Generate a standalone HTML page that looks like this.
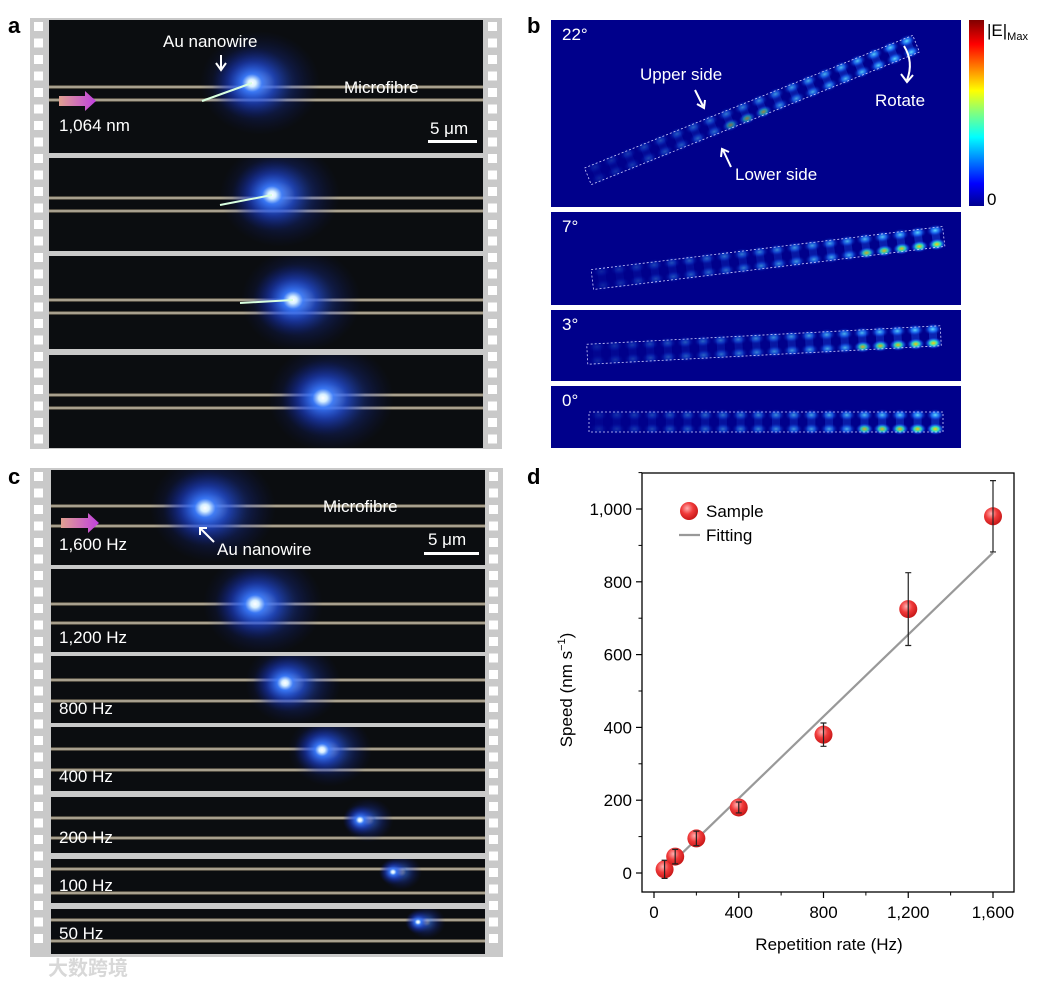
<!DOCTYPE html>
<html><head><meta charset="utf-8"><style>
body{margin:0;background:#fff;}
svg text{font-family:"Liberation Sans","Noto Sans CJK SC",sans-serif;}
</style></head><body>
<svg id="fig" width="1039" height="983" viewBox="0 0 1039 983" xmlns="http://www.w3.org/2000/svg">
<defs>
<radialGradient id="glow"><stop offset="0" stop-color="#ffffff"/><stop offset="0.1" stop-color="#d8f0ff"/><stop offset="0.25" stop-color="#3a7bff" stop-opacity="0.9"/><stop offset="0.6" stop-color="#1a3cd0" stop-opacity="0.45"/><stop offset="1" stop-color="#0a1a80" stop-opacity="0"/></radialGradient>
<radialGradient id="ball" cx="0.4" cy="0.35" r="0.65"><stop offset="0" stop-color="#ffb0b0"/><stop offset="0.5" stop-color="#f03a3a"/><stop offset="1" stop-color="#c81818"/></radialGradient>
<radialGradient id="spot"><stop offset="0" stop-color="#60e0ff"/><stop offset="0.5" stop-color="#1a70ff" stop-opacity="0.7"/><stop offset="1" stop-color="#0010a0" stop-opacity="0"/></radialGradient>
<radialGradient id="spotHot"><stop offset="0" stop-color="#ffd000"/><stop offset="0.4" stop-color="#30e0c0"/><stop offset="0.7" stop-color="#1a70ff" stop-opacity="0.6"/><stop offset="1" stop-color="#0010a0" stop-opacity="0"/></radialGradient>
<linearGradient id="arrowG" x1="0" x2="1"><stop offset="0" stop-color="#e0a090"/><stop offset="1" stop-color="#c040e0"/></linearGradient>
<linearGradient id="jet" x1="0" y1="1" x2="0" y2="0"><stop offset="0" stop-color="#00008f"/><stop offset="0.12" stop-color="#0000ff"/><stop offset="0.37" stop-color="#00ffff"/><stop offset="0.5" stop-color="#80ff80"/><stop offset="0.62" stop-color="#ffff00"/><stop offset="0.87" stop-color="#ff0000"/><stop offset="1" stop-color="#800000"/></linearGradient>
</defs>
<g id="panelA"></g>
<g id="panelC"></g>
<g id="panelB"></g>
<g id="panelD"></g>
<text x="8" y="33" font-size="22" font-weight="bold">a</text>
<text x="527" y="33" font-size="22" font-weight="bold">b</text>
<text x="8" y="484" font-size="22" font-weight="bold">c</text>
<text x="527" y="484" font-size="22" font-weight="bold">d</text>
<text x="48" y="975" font-size="20" fill="#d8d8d8" font-weight="bold">大数跨境</text>
</svg>
<script>
const NS="http://www.w3.org/2000/svg";
function mk(parent,tag,attrs,txt){const e=document.createElementNS(NS,tag);for(const k in attrs)e.setAttribute(k,attrs[k]);if(txt!==undefined)e.textContent=txt;parent.appendChild(e);return e;}

function film(g,x0,x1,y0,y1,fx0,fx1,frames){
  mk(g,'rect',{x:x0,y:y0,width:x1-x0,height:y1-y0,fill:'#c9c9c9'});
  for(let y=y0+4;y<y1-8;y+=16.5){
    mk(g,'rect',{x:x0+4,y:y,width:9,height:9,fill:'#fff'});
    mk(g,'rect',{x:x1-14,y:y,width:9,height:9,fill:'#fff'});
  }
  frames.forEach(f=>{
    const cp='cp'+f.y0;
    const c=mk(g,'clipPath',{id:cp});mk(c,'rect',{x:fx0,y:f.y0,width:fx1-fx0,height:f.y1-f.y0});
    mk(g,'rect',{x:fx0,y:f.y0,width:fx1-fx0,height:f.y1-f.y0,fill:'#0b0d10'});
    const gg=mk(g,'g',{'clip-path':`url(#${cp})`});
    f.lines.forEach(ly=>{mk(gg,'rect',{x:fx0,y:ly-2,width:fx1-fx0,height:4,fill:'#a89c80',opacity:0.45});mk(gg,'rect',{x:fx0,y:ly-0.8,width:fx1-fx0,height:1.6,fill:'#d8d0b8',opacity:0.8});});
    const r=f.r||38;
    mk(gg,'ellipse',{cx:f.gx+8,cy:f.gy,rx:r*1.5,ry:r*1.3,fill:'url(#glow)',opacity:0.55});
    mk(gg,'ellipse',{cx:f.gx,cy:f.gy,rx:r,ry:r*0.9,fill:'url(#glow)'});
    if(f.wire)mk(gg,'line',{x1:f.wire[0],y1:f.wire[1],x2:f.gx,y2:f.gy,stroke:'#d8ffe0','stroke-width':2});
  });
}
const gA=document.getElementById('panelA');
film(gA,30,502,18,449,49,483,[
 {y0:20,y1:153,lines:[87,100],gx:252,gy:83,wire:[202,101],r:40},
 {y0:158,y1:251,lines:[198,211],gx:272,gy:195,wire:[220,205],r:40},
 {y0:256,y1:349,lines:[300,313],gx:293,gy:300,wire:[240,303],r:40},
 {y0:355,y1:448,lines:[395,408],gx:323,gy:398,r:42}]);
mk(gA,'text',{x:163,y:47,'font-size':17,fill:'#fff'},'Au nanowire');
mk(gA,'path',{d:'M221 55 V68 M216 63 L221 70 L226 63',stroke:'#fff','stroke-width':2,fill:'none'});
mk(gA,'text',{x:344,y:93,'font-size':17,fill:'#fff'},'Microfibre');
mk(gA,'path',{d:'M59 96 H85 V91 L96 101 L85 111 V106 H59 Z',fill:'url(#arrowG)'});
mk(gA,'text',{x:59,y:131,'font-size':17,fill:'#fff'},'1,064 nm');
mk(gA,'text',{x:430,y:134,'font-size':17,fill:'#fff'},'5 μm');
mk(gA,'rect',{x:428,y:140,width:49,height:3,fill:'#fff'});

const gC=document.getElementById('panelC');
film(gC,30,503,468,957,51,485,[
 {y0:470,y1:565,lines:[506,526],gx:205,gy:508,r:42},
 {y0:569,y1:652,lines:[604,623],gx:255,gy:604,r:40},
 {y0:656,y1:723,lines:[680,701],gx:285,gy:683,r:32},
 {y0:727,y1:791,lines:[749,770],gx:322,gy:750,r:28},
 {y0:797,y1:853,lines:[818,838],gx:360,gy:820,r:17},
 {y0:859,y1:903,lines:[869,893],gx:393,gy:872,r:14},
 {y0:909,y1:954,lines:[920,941],gx:418,gy:922,r:13}]);
const cl=[['1,600 Hz',550],['1,200 Hz',643],['800 Hz',714],['400 Hz',782],['200 Hz',843],['100 Hz',891],['50 Hz',939]];
cl.forEach(([t,y])=>{const e=mk(gC,'text',{x:59,y:y,'font-size':17,fill:'#fff'},t);

});
mk(gC,'text',{x:323,y:512,'font-size':17,fill:'#fff'},'Microfibre');
mk(gC,'path',{d:'M61 518 H88 V513 L99 523 L88 533 V528 H61 Z',fill:'url(#arrowG)'});
mk(gC,'text',{x:217,y:555,'font-size':17,fill:'#fff'},'Au nanowire');
mk(gC,'path',{d:'M214 542 L201 529 M200 535 L200 528 L207 528',stroke:'#fff','stroke-width':2,fill:'none'});
mk(gC,'text',{x:428,y:545,'font-size':17,fill:'#fff'},'5 μm');
mk(gC,'rect',{x:424,y:552,width:55,height:3,fill:'#fff'});

const gB=document.getElementById('panelB');
const bf=[{y0:20,y1:207,ang:-22,cx:752,cy:110,t:'22°'},{y0:212,y1:305,ang:-7,cx:768,cy:258,t:'7°'},{y0:310,y1:381,ang:-3,cx:764,cy:345,t:'3°'},{y0:386,y1:448,ang:0,cx:766,cy:422,t:'0°'}];
bf.forEach((f,i)=>{
  mk(gB,'rect',{x:551,y:f.y0,width:410,height:f.y1-f.y0,fill:'#00008b'});
  const g=mk(gB,'g',{transform:`translate(${f.cx},${f.cy}) rotate(${f.ang})`});
  const L=354,W=i==0?18:20;
  for(let k=0;k<20;k++){
    const x=-L/2+10+k*17.7, fr=k/19;
    const hot=(i>0&&fr>0.75)||(i==0&&k>=8&&k<=10);
    const op=0.15+0.85*fr;
    mk(g,'rect',{x:x-4,y:-W/2,width:8,height:W,fill:'#1a50e0',opacity:op*0.45});
    [-W/2+3,W/2-3].forEach(yy=>mk(g,'ellipse',{cx:x,cy:yy,rx:9,ry:6,fill:hot&&yy>0?'url(#spotHot)':'url(#spot)',opacity:op}));
  }
  mk(g,'rect',{x:-L/2,y:-W/2,width:L,height:W,fill:'none',stroke:'#d0d0ff','stroke-width':0.8,'stroke-dasharray':'2 2'});
  mk(gB,'text',{x:562,y:f.y0+20,'font-size':17,fill:'#fff'},f.t);
});
mk(gB,'text',{x:640,y:80,'font-size':17,fill:'#fff'},'Upper side');
mk(gB,'path',{d:'M695 90 L703 106 M697 104 L704 108 L705 100',stroke:'#fff','stroke-width':2,fill:'none'});
mk(gB,'text',{x:735,y:180,'font-size':17,fill:'#fff'},'Lower side');
mk(gB,'path',{d:'M731 167 L723 150 M721 157 L722 149 L729 152',stroke:'#fff','stroke-width':2,fill:'none'});
mk(gB,'text',{x:875,y:106,'font-size':17,fill:'#fff'},'Rotate');
mk(gB,'path',{d:'M904 46 Q914 62 907 80 M901 74 L907 82 L913 75',stroke:'#fff','stroke-width':2,fill:'none'});
mk(gB,'rect',{x:969,y:20,width:15,height:186,fill:'url(#jet)'});
const t1=mk(gB,'text',{x:987,y:36,'font-size':17},'|E|');
mk(t1,'tspan',{'font-size':11,dy:4},'Max');
mk(gB,'text',{x:987,y:205,'font-size':17},'0');

// ---------- panel d chart ----------
const categories=[50,100,200,400,800,1200,1600];
const speeds=[10,45,95,180,380,725,980];
const errors=[25,20,20,15,32,100,98];
const fitX=[80,1600];
const fitY=[25,880];
const xTicks=[0,400,800,1200,1600];
const xTickLabels=['0','400','800','1,200','1,600'];
const yTicks=[0,200,400,600,800,1000];
const yTickLabels=['0','200','400','600','800','1,000'];

const gD=document.getElementById('panelD');
const PX0=642,PX1=1014,PY0=473,PY1=892;
const xs=v=>654+(v-0)*(993-654)/1600;
const ys=v=>873-(v-0)*(873-509)/1000;
const fr=mk(gD,'rect',{x:PX0,y:PY0,width:PX1-PX0,height:PY1-PY0,fill:'none',stroke:'#000','stroke-width':1.3});


xTicks.forEach((v,i)=>{
  mk(gD,'line',{x1:xs(v),y1:PY1,x2:xs(v),y2:PY1+6,stroke:'#000','stroke-width':1.2});
  const t=mk(gD,'text',{x:xs(v),y:PY1+26,'font-size':17,'text-anchor':'middle'},xTickLabels[i]);
  
  
  if(i<xTicks.length-1)mk(gD,'line',{x1:xs(v+200),y1:PY1,x2:xs(v+200),y2:PY1+3.5,stroke:'#000','stroke-width':1});
});
yTicks.forEach((v,i)=>{
  mk(gD,'line',{x1:PX0,y1:ys(v),x2:PX0-6,y2:ys(v),stroke:'#000','stroke-width':1.2});
  const t=mk(gD,'text',{x:PX0-10,y:ys(v)+6,'font-size':17,'text-anchor':'end'},yTickLabels[i]);
  
  
  mk(gD,'line',{x1:PX0,y1:ys(v+100),x2:PX0-3.5,y2:ys(v+100),stroke:'#000','stroke-width':1});
});
const fl=mk(gD,'line',{x1:xs(fitX[0]),y1:ys(fitY[0]),x2:xs(fitX[1]),y2:ys(fitY[1]),stroke:'#999','stroke-width':2.2});


categories.forEach((c,i)=>{
  const x=xs(c),y=ys(speeds[i]),yt=ys(speeds[i]+errors[i]),yb=ys(speeds[i]-errors[i]);
  const b=mk(gD,'circle',{cx:x,cy:y,r:9,fill:'url(#ball)'});
  
  
  const eb=mk(gD,'path',{d:`M${x} ${yt} V${yb} M${x-3} ${yt} H${x+3} M${x-3} ${yb} H${x+3}`,stroke:'#222','stroke-width':1.2,fill:'none'});
  
  
});
mk(gD,'circle',{cx:689,cy:511,r:9,fill:'url(#ball)'});
const l1=mk(gD,'text',{x:706,y:517,'font-size':17},'Sample');


mk(gD,'line',{x1:679,y1:535,x2:700,y2:535,stroke:'#999','stroke-width':2.2});
const l2=mk(gD,'text',{x:706,y:541,'font-size':17},'Fitting');


const xt=mk(gD,'text',{x:829,y:950,'font-size':17,'text-anchor':'middle'},'Repetition rate (Hz)');


const yt=mk(gD,'text',{x:0,y:0,'font-size':17,'text-anchor':'middle',transform:'translate(572,690) rotate(-90)'},'Speed (nm s');


mk(yt,'tspan',{'font-size':11,dy:-7},'−1');
mk(yt,'tspan',{dy:7},')');
</script>
</body></html>
